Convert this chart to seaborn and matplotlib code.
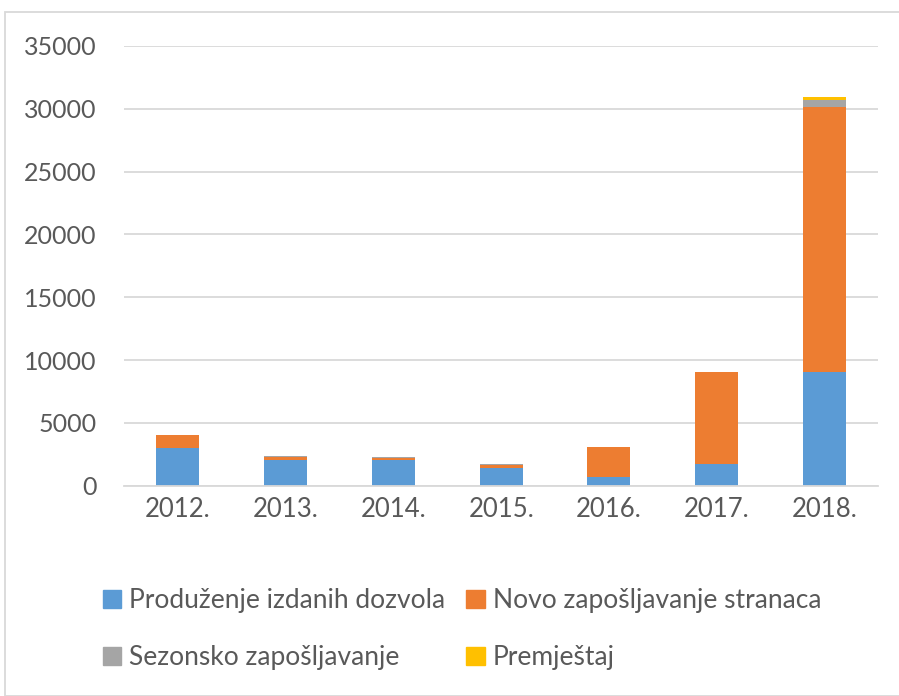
import numpy as np
import pandas as pd
import matplotlib
matplotlib.use("Agg")
import matplotlib.pyplot as plt
import seaborn as sns
from matplotlib.patches import Patch, Rectangle

# data
years = ["2012.", "2013.", "2014.", "2015.", "2016.", "2017.", "2018."]
produzenje = [3000, 2030, 2020, 1440, 740, 1730, 9040]
novo = [1020, 240, 220, 240, 2340, 7300, 21140]
sezonsko = [0, 100, 40, 20, 20, 30, 520]
premjestaj = [0, 0, 0, 0, 0, 0, 250]

labels = ["Produženje izdanih dozvola", "Novo zapošljavanje stranaca",
          "Sezonsko zapošljavanje", "Premještaj"]
colors = ["#5b9bd5", "#ed7d31", "#a5a5a5", "#ffc000"]

sns.set_theme(style="white")
plt.rcParams["font.family"] = ["Lato", "DejaVu Sans"]
txt = "#595959"

df = pd.DataFrame({"year": years, "s1": produzenje, "s2": novo,
                   "s3": sezonsko, "s4": premjestaj})
# cumulative totals, drawn from the top series down
df["c1"] = df["s1"]
df["c2"] = df["c1"] + df["s2"]
df["c3"] = df["c2"] + df["s3"]
df["c4"] = df["c3"] + df["s4"]

fig = plt.figure(figsize=(8.99, 6.96), dpi=100)
ax = fig.add_axes([0.138, 0.302, 0.839, 0.632])

for col, c in zip(["c4", "c3", "c2", "c1"], colors[::-1]):
    sns.barplot(data=df, x="year", y=col, color=c, width=0.4,
                saturation=1, linewidth=0, ax=ax)

ax.set_ylim(0, 35000)
ax.set_yticks(np.arange(0, 35001, 5000))
ax.yaxis.grid(True, color="#d9d9d9", linewidth=1.3)
ax.set_axisbelow(True)
for s in ["top", "right", "left"]:
    ax.spines[s].set_visible(False)
ax.spines["bottom"].set_color("#d9d9d9")
ax.spines["bottom"].set_linewidth(1.3)
ax.set_xlabel("")
ax.set_ylabel("")
ax.tick_params(axis="y", length=0, labelsize=18, colors=txt, pad=20)
ax.tick_params(axis="x", length=0, labelsize=18.5, colors=txt, pad=8)

handles = [Patch(color=colors[0]), Patch(color=colors[2]),
           Patch(color=colors[1]), Patch(color=colors[3])]
leg_labels = [labels[0], labels[2], labels[1], labels[3]]
leg = fig.legend(handles, leg_labels, ncol=2, loc="center left",
                 bbox_to_anchor=(0.088, 0.096), frameon=False,
                 fontsize=19, handlelength=0.7, handleheight=0.7,
                 handletextpad=0.3, columnspacing=0.8, labelspacing=1.2)
for t in leg.get_texts():
    t.set_color(txt)

# chart area border
fig.patches.append(Rectangle((0.006, 0.0), 1.1, 0.983, transform=fig.transFigure,
                             fill=False, edgecolor="#d9d9d9", linewidth=1.3))

fig.savefig("out.png", dpi=100)
